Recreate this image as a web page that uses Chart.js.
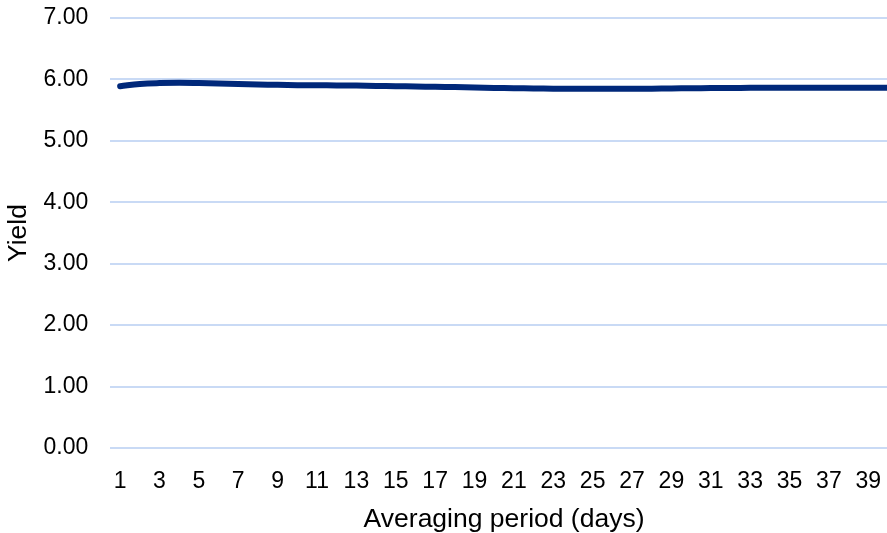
<!DOCTYPE html>
<html>
<head>
<meta charset="utf-8">
<script src="https://cdn.jsdelivr.net/npm/chart.js@4.4.1/dist/chart.umd.min.js"></script>
<style>
  html, body { margin: 0; padding: 0; background: #ffffff; overflow: hidden; }
  #wrap { width: 908px; height: 533px; }
</style>
</head>
<body>
<div id="wrap"><canvas id="chart" width="908" height="533"></canvas></div>
<script>
// Averaging period in days
const periods = Array.from({ length: 40 }, (_, i) => String(i + 1));

// Yield for each averaging period
const yieldValues = [
  5.89, 5.925, 5.94, 5.945, 5.94, 5.932, 5.925, 5.918, 5.912, 5.907,
  5.905, 5.903, 5.90, 5.895, 5.89, 5.885, 5.88, 5.875, 5.868, 5.862,
  5.857, 5.853, 5.85, 5.848, 5.847, 5.848, 5.849, 5.85, 5.853, 5.856,
  5.859, 5.861, 5.863, 5.864, 5.865, 5.866, 5.866, 5.866, 5.865, 5.865
];

// Y axis range and step
const yMin = 0, yMax = 7, yStep = 1;

const FONT = "'Liberation Sans', Arial, sans-serif";

new Chart(document.getElementById('chart'), {
  type: 'line',
  data: {
    labels: periods,
    datasets: [{
      data: yieldValues,
      borderColor: '#00287a',
      borderWidth: 6,
      borderCapStyle: 'round',
      borderJoinStyle: 'round',
      pointRadius: 0,
      pointHoverRadius: 0,
      fill: false,
      tension: 0.4
    }]
  },
  options: {
    responsive: false,
    animation: false,
    devicePixelRatio: 1,
    layout: { padding: { top: 18, right: 2.7, bottom: 0, left: 0 } },
    plugins: { legend: { display: false }, tooltip: { enabled: false } },
    scales: {
      x: {
        type: 'category',
        offset: true,
        grid: { display: false, drawTicks: false },
        border: { display: false },
        ticks: {
          autoSkip: false,
          maxRotation: 0,
          minRotation: 0,
          padding: 20,
          color: '#000000',
          font: { family: FONT, size: 23 },
          callback: function (value, index) {
            return index % 2 === 0 ? this.getLabelForValue(value) : '';
          }
        },
        title: {
          display: true,
          text: 'Averaging period (days)',
          color: '#000000',
          font: { family: FONT, size: 26.5, lineHeight: 1.0 },
          padding: { top: 0, bottom: 0 }
        },
        afterFit: (scale) => { scale.height = 85; }
      },
      y: {
        min: yMin,
        max: yMax,
        grid: { color: '#c9daf5', lineWidth: 2, drawTicks: false },
        border: { display: false },
        ticks: {
          stepSize: yStep,
          padding: 22,
          color: '#000000',
          font: { family: FONT, size: 23 },
          callback: (v) => Number(v).toFixed(2)
        },
        title: {
          display: true,
          text: 'Yield',
          color: '#000000',
          font: { family: FONT, size: 26.5 },
          padding: { top: 3, bottom: 0 }
        },
        afterFit: (scale) => {
          // fixed axis band; top/bottom room comes from the layout padding
          scale.width = 110.3;
          scale.paddingTop = 0;
          scale.paddingBottom = 0;
        }
      }
    }
  }
});
</script>
</body>
</html>
